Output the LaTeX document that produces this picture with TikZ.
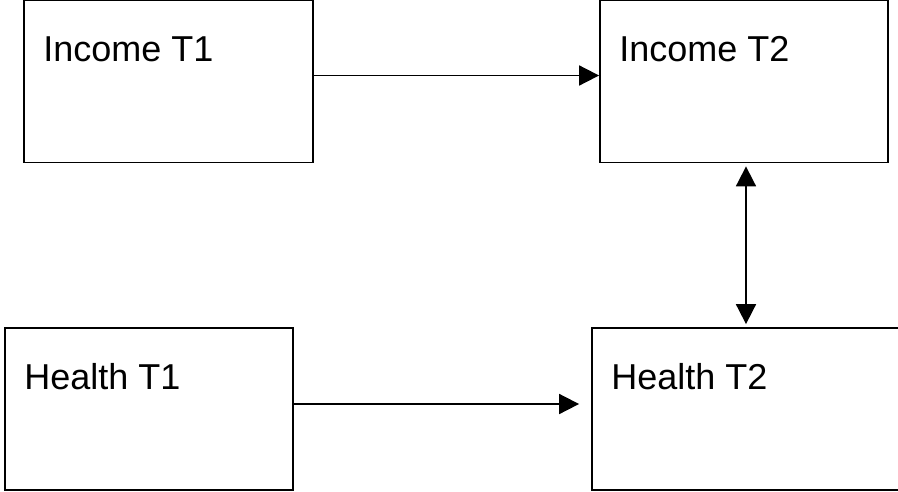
\documentclass[tikz,border=0pt]{standalone}
\usepackage{fontspec}
\setmainfont{Liberation Sans}
\usetikzlibrary{arrows.meta}

\tikzset{
	box/.style={draw, line width=1.8pt, minimum width=#1, minimum height=162pt, inner sep=0pt},
	lbl/.style={anchor=base west, inner sep=0pt, font=\fontsize{36}{40}\selectfont},
	link/.style={line width=1.8pt, -{Triangle[length=20pt,width=20pt]}},
	both/.style={line width=1.8pt, {Triangle[length=20pt,width=20pt]}-{Triangle[length=20pt,width=20pt]}}
}

\begin{document}
\begin{tikzpicture}[x=1pt,y=-1pt]
	\useasboundingbox (0,0) rectangle (898,491);
	\clip (0,0) rectangle (898,491);
	
	% boxes
	\node[box=289pt] (inc1) at (168.5, 81.5) {};
	\node[box=288pt] (inc2) at (744, 81.5) {};
	\node[box=288pt] (hea1) at (149, 409) {};
	\node[box=308pt] (hea2) at (746, 409) {};
	
	% labels
	\node[lbl] (inc1t) at ([shift={(20,62)}]inc1.north west) {Income T1};
	\node[lbl] (inc2t) at ([shift={(20,62)}]inc2.north west) {Income T2};
	\node[lbl] (hea1t) at ([shift={(20,62)}]hea1.north west) {Health T1};
	\node[lbl] (hea2t) at ([shift={(20,62)}]hea2.north west) {Health T2};
	
	% arrows
	\draw[link] ([yshift=6pt]inc1.east) -- ([yshift=6pt]inc2.west);
	\draw[link] ([yshift=5pt]hea1.east) -- ([shift={(-12,-5)}]hea2.west);
	\draw[both] ([shift={(2,3)}]inc2.south) -- ([yshift=3pt]hea2.north);
\end{tikzpicture}
\end{document}
